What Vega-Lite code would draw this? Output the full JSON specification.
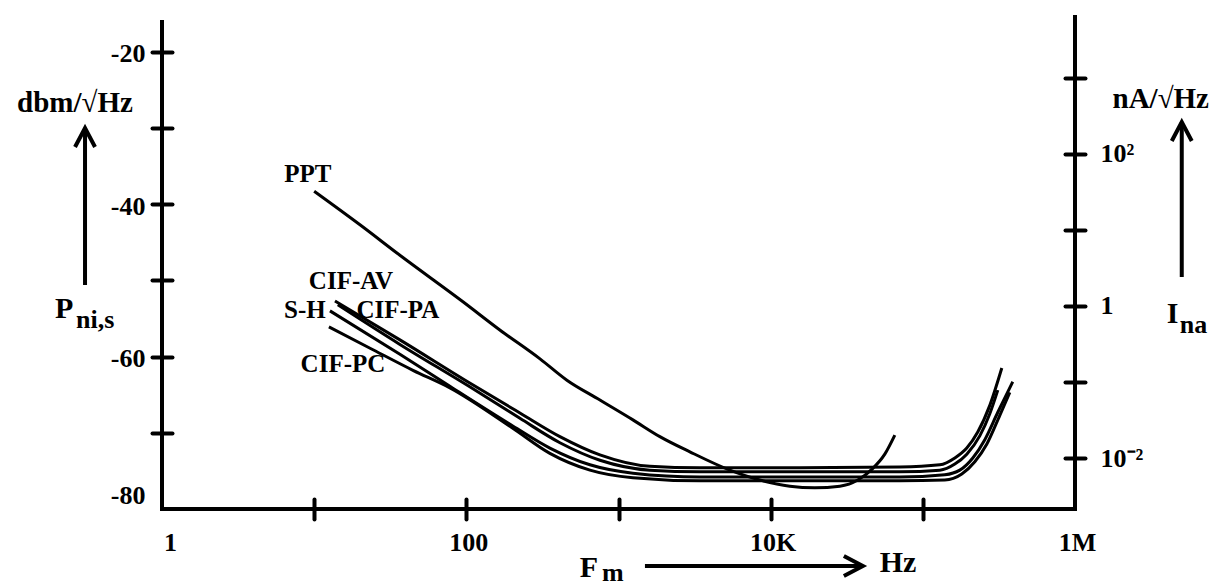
{
 "$schema": "https://vega.github.io/schema/vega-lite/v6.json",
 "width": 913, "height": 492,
 "autosize": "none",
 "padding": {"left": 162, "top": 17, "right": 144, "bottom": 77},
 "background": "white",
 "config": {"view": {"stroke": null}, "font": "Liberation Serif", "text": {"font": "Liberation Serif", "fontWeight": "bold", "color": "black"}},
 "datasets": {
  "curves": [
   {"s":"PPT","f":10.0,"v":-38.3},{"s":"PPT","f":20.0,"v":-42.7},{"s":"PPT","f":36.6,"v":-46.7},{"s":"PPT","f":95,"v":-52.8},{"s":"PPT","f":166,"v":-56.5},{"s":"PPT","f":305,"v":-60.3},{"s":"PPT","f":458,"v":-63.1},{"s":"PPT","f":755,"v":-65.7},{"s":"PPT","f":1244,"v":-68.3},{"s":"PPT","f":1870,"v":-70.5},{"s":"PPT","f":2945,"v":-72.5},{"s":"PPT","f":5395,"v":-74.9},{"s":"PPT","f":8490,"v":-76.2},{"s":"PPT","f":13370,"v":-77.0},{"s":"PPT","f":19500,"v":-77.2},{"s":"PPT","f":28500,"v":-77.0},{"s":"PPT","f":37400,"v":-76.2},{"s":"PPT","f":46200,"v":-74.8},{"s":"PPT","f":56240,"v":-72.8},{"s":"PPT","f":65460,"v":-70.3},
   {"s":"CIF-AV","f":13.7,"v":-52.7},{"s":"CIF-AV","f":36.6,"v":-57.8},{"s":"CIF-AV","f":106,"v":-63.5},{"s":"CIF-AV","f":225,"v":-67.4},{"s":"CIF-AV","f":412,"v":-70.5},{"s":"CIF-AV","f":755,"v":-72.9},{"s":"CIF-AV","f":1608,"v":-74.4},{"s":"CIF-AV","f":3430,"v":-74.6},{"s":"CIF-AV","f":15560,"v":-74.6},{"s":"CIF-AV","f":70600,"v":-74.5},{"s":"CIF-AV","f":129400,"v":-74.2},{"s":"CIF-AV","f":162300,"v":-73.3},{"s":"CIF-AV","f":194500,"v":-72.0},{"s":"CIF-AV","f":229600,"v":-69.9},{"s":"CIF-AV","f":275500,"v":-66.4},{"s":"CIF-AV","f":330400,"v":-61.5},
   {"s":"CIF-PA","f":14.3,"v":-53.2},{"s":"CIF-PA","f":36.6,"v":-58.4},{"s":"CIF-PA","f":106,"v":-64.0},{"s":"CIF-PA","f":225,"v":-68.1},{"s":"CIF-PA","f":412,"v":-71.3},{"s":"CIF-PA","f":755,"v":-73.6},{"s":"CIF-PA","f":1608,"v":-74.9},{"s":"CIF-PA","f":3430,"v":-75.1},{"s":"CIF-PA","f":70600,"v":-75.1},{"s":"CIF-PA","f":129400,"v":-74.9},{"s":"CIF-PA","f":162300,"v":-74.1},{"s":"CIF-PA","f":194500,"v":-72.8},{"s":"CIF-PA","f":236800,"v":-70.4},{"s":"CIF-PA","f":275500,"v":-67.5},{"s":"CIF-PA","f":311000,"v":-64.4},
   {"s":"S-H","f":12.7,"v":-54.0},{"s":"S-H","f":36.6,"v":-59.7},{"s":"S-H","f":78,"v":-63.9},{"s":"S-H","f":202,"v":-69.1},{"s":"S-H","f":354,"v":-72.0},{"s":"S-H","f":649,"v":-74.2},{"s":"S-H","f":1244,"v":-75.3},{"s":"S-H","f":3430,"v":-75.8},{"s":"S-H","f":70600,"v":-75.8},{"s":"S-H","f":139400,"v":-75.5},{"s":"S-H","f":175000,"v":-74.9},{"s":"S-H","f":213000,"v":-73.3},{"s":"S-H","f":255500,"v":-70.9},{"s":"S-H","f":311000,"v":-67.3},{"s":"S-H","f":390000,"v":-63.3},
   {"s":"CIF-PC","f":12.5,"v":-56.1},{"s":"CIF-PC","f":23.3,"v":-58.9},{"s":"CIF-PC","f":44.6,"v":-61.8},{"s":"CIF-PC","f":78,"v":-64.1},{"s":"CIF-PC","f":202,"v":-69.4},{"s":"CIF-PC","f":354,"v":-72.7},{"s":"CIF-PC","f":649,"v":-74.9},{"s":"CIF-PC","f":1244,"v":-75.9},{"s":"CIF-PC","f":3430,"v":-76.3},{"s":"CIF-PC","f":70600,"v":-76.3},{"s":"CIF-PC","f":139400,"v":-76.2},{"s":"CIF-PC","f":180300,"v":-75.4},{"s":"CIF-PC","f":219600,"v":-73.8},{"s":"CIF-PC","f":263000,"v":-71.5},{"s":"CIF-PC","f":320600,"v":-67.7},{"s":"CIF-PC","f":373000,"v":-64.7}
  ],
  "rules": [
   {"f":1,"f2":1,"v":-80,"v2":-16.09},
   {"f":1,"f2":1000000,"v":-80,"v2":-80},
   {"f":0.312,"f2":0.312,"v":-50.34,"v2":-30.3},
   {"f":5030000,"f2":5030000,"v":-49.29,"v2":-29.5},
   {"f":1538,"f2":39150,"v":-87.48,"v2":-87.48}
  ],
  "heads": [
   {"f":0.312,"v":-30.0,"dir":"up"},
   {"f":5030000,"v":-29.21,"dir":"up"},
   {"f":40360,"v":-87.48,"dir":"right"}
  ],
  "curveLabels": [
   {"t":"PPT","f":9.1,"v":-36.04},
   {"t":"CIF-AV","f":17.46,"v":-50.08},
   {"t":"S-H","f":8.7,"v":-53.88},
   {"t":"CIF-PA","f":35.5,"v":-53.88},
   {"t":"CIF-PC","f":15.46,"v":-60.97}
  ],
  "units": [
   {"t":"dbm/√Hz","f":0.268,"v":-27.9},
   {"t":"nA/√Hz","f":3660000,"v":-27.38}
  ],
  "bigText": [
   {"t":"P","f":0.198,"v":-54.93},
   {"t":"I","f":4010000,"v":-55.59},
   {"t":"F","f":557,"v":-88.93},
   {"t":"Hz","f":52130,"v":-88.27}
  ],
  "subText": [
   {"t":"ni,s","f":0.272,"v":-56.25},
   {"t":"na","f":4880000,"v":-56.9},
   {"t":"m","f":778,"v":-89.45}
  ],
  "rightFrame": [
   {"f":1000000,"i":0.00214,"i2":6310}
  ]
 },
 "layer": [
  {"data": {"name": "curves"},
   "mark": {"type": "line", "interpolate": "monotone", "strokeWidth": 3, "color": "black"},
   "encoding": {
    "x": {"field": "f", "type": "quantitative", "scale": {"type": "log", "domain": [1, 1000000], "nice": false},
     "axis": {"orient": "bottom", "values": [1, 10, 100, 1000, 10000, 100000, 1000000],
      "labelExpr": "datum.value == 1 ? '1' : datum.value == 100 ? '100' : datum.value == 10000 ? '10K' : datum.value == 1000000 ? '1M' : ''",
      "domain": false, "grid": false, "offset": -10, "tickSize": 20, "tickWidth": 4, "tickCap": "round",
      "tickColor": {"condition": {"test": "datum.value == 1 || datum.value == 1000000", "value": "transparent"}, "value": "black"},
      "labelOffset": {"condition": {"test": "datum.value == 1", "value": 8}, "value": 2},
      "labelFont": "Liberation Serif", "labelFontWeight": "bold", "labelFontSize": 26, "labelColor": "black",
      "labelPadding": 10, "labelOverlap": false, "labelFlush": false, "labelBound": false, "title": null}},
    "y": {"field": "v", "type": "quantitative", "scale": {"domain": [-80, -15.43], "nice": false, "zero": false},
     "axis": {"orient": "left", "values": [-20, -30, -40, -50, -60, -70, -80],
      "labelExpr": "(datum.value == -20 || datum.value == -40 || datum.value == -60 || datum.value == -80) ? '-' + (-datum.value) : ''",
      "domain": false, "grid": false, "offset": -10, "tickSize": 20, "tickWidth": 4, "tickCap": "round",
      "tickColor": {"condition": {"test": "datum.value == -80", "value": "transparent"}, "value": "black"},
      "labelOffset": {"condition": {"test": "datum.value == -80", "value": -14}, "value": 2},
      "labelFont": "Liberation Serif", "labelFontWeight": "bold", "labelFontSize": 26, "labelColor": "black",
      "labelPadding": 7, "labelOverlap": false, "labelBound": false, "title": null}},
    "detail": {"field": "s", "type": "nominal"}
   }},
  {"data": {"name": "rules"},
   "mark": {"type": "rule", "strokeWidth": 4, "strokeCap": "square", "color": "black"},
   "encoding": {
    "x": {"field": "f", "type": "quantitative", "scale": {"type": "log", "domain": [1, 1000000], "nice": false}},
    "x2": {"field": "f2"},
    "y": {"field": "v", "type": "quantitative", "scale": {"domain": [-80, -15.43], "nice": false, "zero": false}, "axis": null},
    "y2": {"field": "v2"}
   }},
  {"data": {"name": "heads"},
   "mark": {"type": "point", "filled": false, "size": 400, "strokeWidth": 4, "color": "black", "opacity": 1},
   "encoding": {
    "x": {"field": "f", "type": "quantitative", "scale": {"type": "log", "domain": [1, 1000000], "nice": false}},
    "y": {"field": "v", "type": "quantitative", "scale": {"domain": [-80, -15.43], "nice": false, "zero": false}, "axis": null},
    "shape": {"field": "dir", "type": "nominal", "scale": {"domain": ["up", "right"], "range": ["M-1,1.9L0,0L1,1.9", "M-1.9,-1L0,0L-1.9,1"]}, "legend": null}
   }},
  {"data": {"name": "curveLabels"},
   "mark": {"type": "text", "fontSize": 25, "align": "center", "baseline": "middle", "fontWeight": "bold", "font": "Liberation Serif"},
   "encoding": {
    "x": {"field": "f", "type": "quantitative", "scale": {"type": "log", "domain": [1, 1000000], "nice": false}},
    "y": {"field": "v", "type": "quantitative", "scale": {"domain": [-80, -15.43], "nice": false, "zero": false}, "axis": null},
    "text": {"field": "t"}
   }},
  {"data": {"name": "units"},
   "mark": {"type": "text", "fontSize": 29, "align": "center", "baseline": "alphabetic", "fontWeight": "bold", "font": "Liberation Serif"},
   "encoding": {
    "x": {"field": "f", "type": "quantitative", "scale": {"type": "log", "domain": [1, 1000000], "nice": false}},
    "y": {"field": "v", "type": "quantitative", "scale": {"domain": [-80, -15.43], "nice": false, "zero": false}, "axis": null},
    "text": {"field": "t"}
   }},
  {"data": {"name": "bigText"},
   "mark": {"type": "text", "fontSize": 30, "align": "left", "baseline": "alphabetic", "fontWeight": "bold", "font": "Liberation Serif"},
   "encoding": {
    "x": {"field": "f", "type": "quantitative", "scale": {"type": "log", "domain": [1, 1000000], "nice": false}},
    "y": {"field": "v", "type": "quantitative", "scale": {"domain": [-80, -15.43], "nice": false, "zero": false}, "axis": null},
    "text": {"field": "t"}
   }},
  {"data": {"name": "subText"},
   "mark": {"type": "text", "fontSize": 26, "align": "left", "baseline": "alphabetic", "fontWeight": "bold", "font": "Liberation Serif"},
   "encoding": {
    "x": {"field": "f", "type": "quantitative", "scale": {"type": "log", "domain": [1, 1000000], "nice": false}},
    "y": {"field": "v", "type": "quantitative", "scale": {"domain": [-80, -15.43], "nice": false, "zero": false}, "axis": null},
    "text": {"field": "t"}
   }},
  {"data": {"name": "rightFrame"},
   "mark": {"type": "rule", "strokeWidth": 4, "strokeCap": "square", "color": "black"},
   "encoding": {
    "x": {"field": "f", "type": "quantitative", "scale": {"type": "log", "domain": [1, 1000000], "nice": false}},
    "y": {"field": "i", "type": "quantitative", "scale": {"type": "log", "domain": [0.00214, 6310], "nice": false},
     "axis": {"orient": "right", "values": [1000, 100, 10, 1, 0.1, 0.01],
      "labelExpr": "datum.value == 100 ? '10²' : datum.value == 1 ? '1' : datum.value == 0.01 ? '10⁻²' : ''",
      "domain": false, "grid": false, "offset": -10, "tickSize": 20, "tickWidth": 4, "tickCap": "round", "tickColor": "black",
      "labelFont": "Liberation Serif", "labelFontWeight": "bold", "labelFontSize": 26, "labelColor": "black",
      "labelPadding": 15, "labelOverlap": false, "labelBound": false, "title": null}},
    "y2": {"field": "i2"}
   }}
 ],
 "resolve": {"scale": {"y": "independent"}}
}
